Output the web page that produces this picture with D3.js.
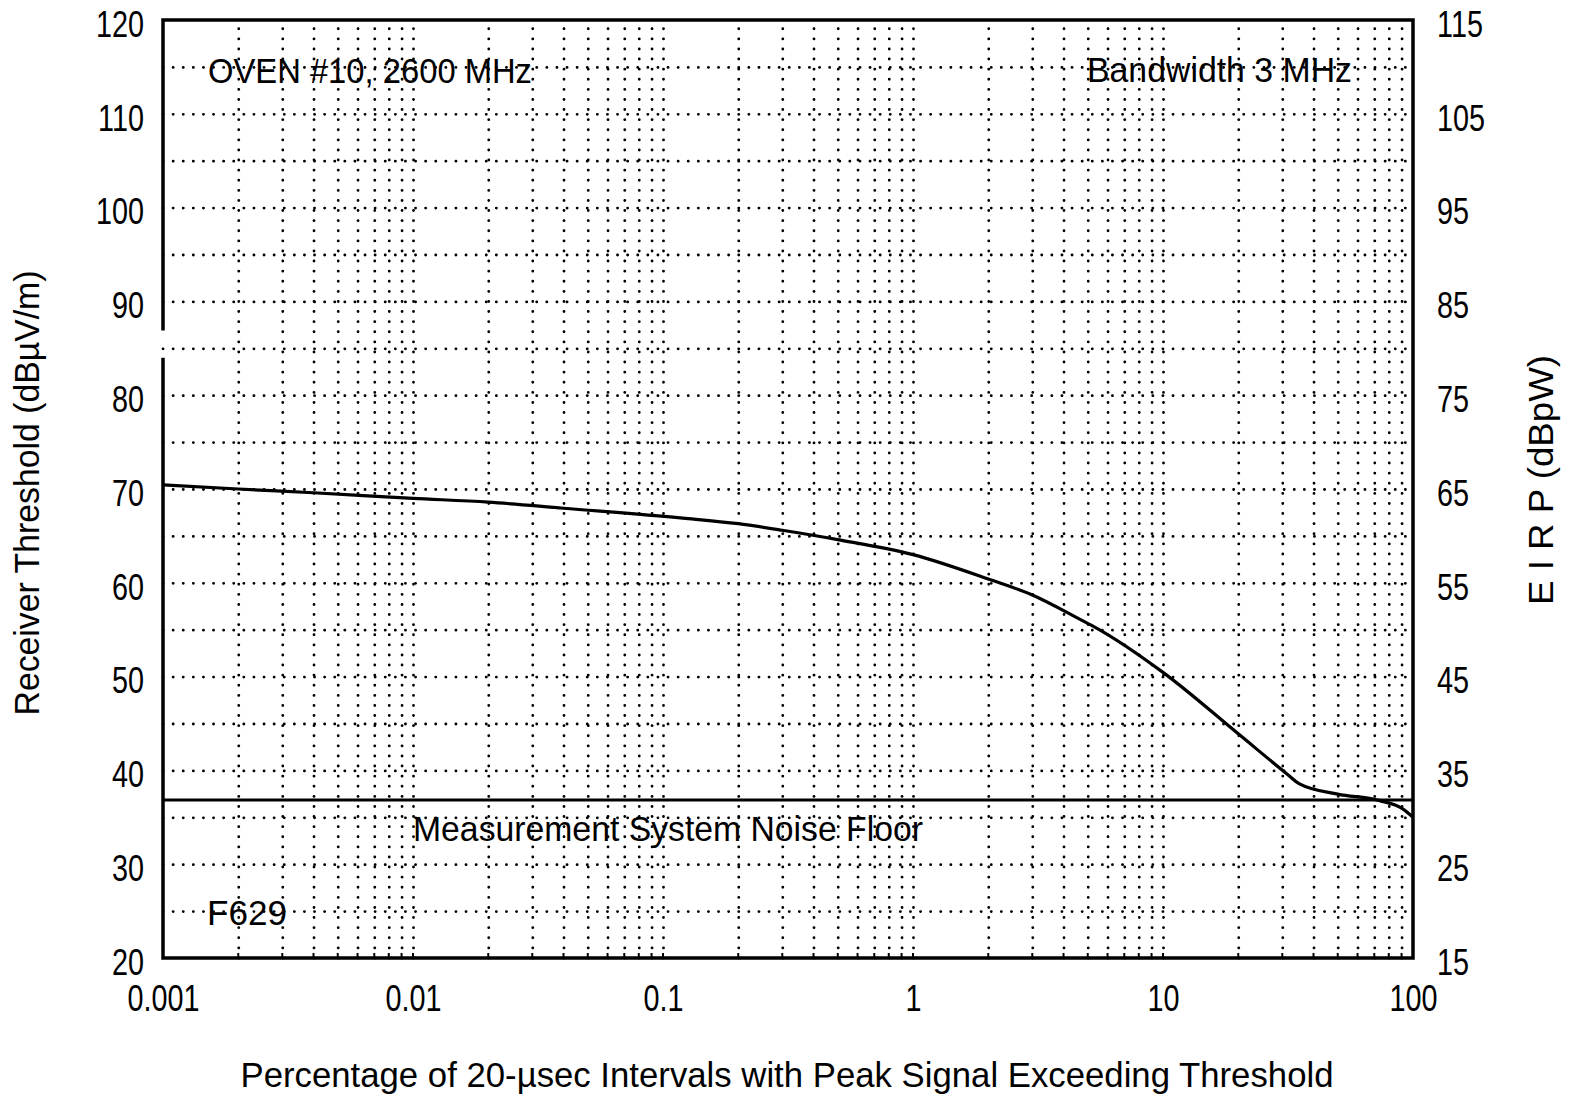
<!DOCTYPE html>
<html>
<head>
<meta charset="utf-8">
<script src="https://cdn.jsdelivr.net/npm/d3@7"></script>
<style>
  body { margin: 0; background: #fff; }
  text { font-family: "Liberation Sans Narrow", "Liberation Sans", Arial, sans-serif; fill: #000; }
  .grid line { stroke: #000; stroke-width: 2.8; stroke-linecap: round; stroke-dasharray: 0.1 10; }
  .grid .domain { display: none; }
  .ax .domain { display: none; }
  .ax text { font-size: 36px; }
</style>
</head>
<body>
<div id="scene"></div>
<script>
// left axis: receiver threshold, right axis: EIRP
const leftTicks = [20, 30, 40, 50, 60, 70, 80, 90, 100, 110, 120];
const rightTicks = [15, 25, 35, 45, 55, 65, 75, 85, 95, 105, 115];
const xTicks = [0.001, 0.01, 0.1, 1, 10, 100];
const xTickLabels = ["0.001", "0.01", "0.1", "1", "10", "100"];

// curve (percent, dBuV/m)
const pctValues = [0.001, 0.002, 0.004, 0.01, 0.02, 0.04, 0.12, 0.2, 0.3, 0.5, 1, 2, 3, 4.66, 5.4, 10, 20, 31.4, 35, 50, 73, 91, 100];
const thresholdValues = [70.45, 70.0, 69.6, 69.0, 68.6, 67.95, 66.9, 66.3, 65.6, 64.6, 63.0, 60.4, 58.7, 56.1, 55.2, 50.45, 43.9, 39.6, 38.6, 37.47, 36.8, 35.9, 35.0];
const noiseFloor = 36.85;

const W = 1572, H = 1101;
const margin = {left: 163, top: 20, right: 159, bottom: 143};
const width = W - margin.left - margin.right;
const height = H - margin.top - margin.bottom;

const svgRoot = d3.select("#scene").append("svg")
  .attr("width", W)
  .attr("height", H);
const svg = svgRoot.append("g")
  .attr("transform", `translate(${margin.left},${margin.top})`);

const x = d3.scaleLog().domain([0.001, 100]).range([0, width]);
const y = d3.scaleLinear().domain([20, 120]).range([height, 0]);
const y2 = d3.scaleLinear().domain([15, 115]).range([height, 0]);

// narrow the glyphs a bit, the scan uses a condensed face
const squeeze = (sel, k) => sel.each(function() {
  const t = d3.select(this);
  t.attr("textLength", this.getComputedTextLength() * k).attr("lengthAdjust", "spacingAndGlyphs");
});

// vertical grid at 1..9 of each decade
const xGrid = [];
for (let e = -3; e < 2; e++) {
  for (let m = 1; m < 10; m++) {
    const v = m * Math.pow(10, e);
    if (v > 0.001 * 1.0001) xGrid.push(v);
  }
}
const yGrid = d3.range(25, 120, 5);

svg.append("g")
  .attr("class", "grid")
  .attr("transform", `translate(0,${height})`)
  .call(d3.axisBottom(x).tickValues(xGrid).tickSize(-height).tickFormat(""));

svg.append("g")
  .attr("class", "grid")
  .call(d3.axisLeft(y).tickValues(yGrid).tickSize(-width).tickFormat(""));

// frame (left edge has a break, as in the scan)
const frame = svg.append("g").attr("stroke", "#000").attr("stroke-width", 3.5).attr("fill", "none");
frame.append("path").attr("d", `M0,${y(86.9)} L0,0 L${width},0 L${width},${height} L0,${height} L0,${y(84.0)}`);

// small inward ticks along the bottom
svg.append("g")
  .selectAll("line")
  .data(xGrid.filter(v => v < 100))
  .join("line")
  .attr("x1", d => x(d)).attr("x2", d => x(d))
  .attr("y1", height).attr("y2", height - 5)
  .attr("stroke", "#000").attr("stroke-width", 2);

// axes labels
const axL = svg.append("g").attr("class", "ax")
  .call(d3.axisLeft(y).tickValues(leftTicks).tickSize(0).tickPadding(19));
axL.selectAll("text").attr("dy", "0.45em").call(squeeze, 0.8);

const axR = svg.append("g").attr("class", "ax")
  .attr("transform", `translate(${width},0)`)
  .call(d3.axisRight(y2).tickValues(rightTicks).tickSize(0).tickPadding(24));
axR.selectAll("text").attr("dy", "0.45em").call(squeeze, 0.8);

const axB = svg.append("g").attr("class", "ax")
  .attr("transform", `translate(0,${height})`)
  .call(d3.axisBottom(x).tickValues(xTicks).tickSize(0).tickPadding(27)
    .tickFormat((d, i) => xTickLabels[i]));
axB.selectAll("text").attr("dy", "0.71em").call(squeeze, 0.8);

// noise floor
svg.append("line")
  .attr("x1", 0).attr("x2", width)
  .attr("y1", y(noiseFloor)).attr("y2", y(noiseFloor))
  .attr("stroke", "#000").attr("stroke-width", 3);

// curve
const pts = pctValues.map((p, i) => ({p: p, v: thresholdValues[i]}));
svg.append("path")
  .datum(pts)
  .attr("fill", "none")
  .attr("stroke", "#000")
  .attr("stroke-width", 3.2)
  .attr("d", d3.line().x(d => x(d.p)).y(d => y(d.v)).curve(d3.curveMonotoneX));

// annotations
function label(txt, px, py, len) {
  svgRoot.append("text")
    .attr("x", px).attr("y", py)
    .attr("font-size", 35)
    .attr("textLength", len)
    .attr("lengthAdjust", "spacingAndGlyphs")
    .text(txt);
}
label("OVEN #10, 2600 MHz", 208, 83, 324);
label("Bandwidth 3 MHz", 1087, 82, 265);
label("Measurement System Noise Floor", 413, 841, 510);
label("F629", 207, 925, 80);

svgRoot.append("text")
  .attr("x", 787).attr("y", 1087)
  .attr("text-anchor", "middle")
  .attr("font-size", 35)
  .attr("textLength", 1093)
  .attr("lengthAdjust", "spacingAndGlyphs")
  .text("Percentage of 20-µsec Intervals with Peak Signal Exceeding Threshold");

svgRoot.append("text")
  .attr("transform", "translate(39,493) rotate(-90)")
  .attr("text-anchor", "middle")
  .attr("font-size", 35)
  .attr("textLength", 445)
  .attr("lengthAdjust", "spacingAndGlyphs")
  .text("Receiver Threshold (dBµV/m)");

svgRoot.append("text")
  .attr("transform", "translate(1553,480) rotate(-90)")
  .attr("text-anchor", "middle")
  .attr("font-size", 35)
  .attr("textLength", 250)
  .attr("lengthAdjust", "spacingAndGlyphs")
  .text("E I R P (dBpW)");
</script>
</body>
</html>
